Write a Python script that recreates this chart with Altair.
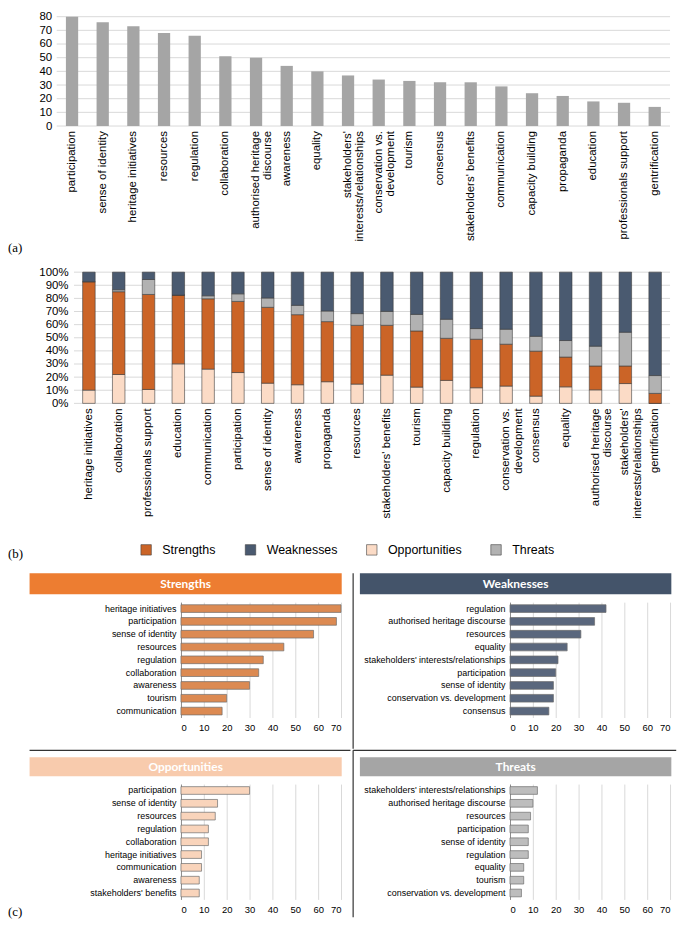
import altair as alt
import pandas as pd

SANS = "Liberation Sans"
SERIF = "Liberation Serif"

# ---------------- (a) overall frequency ----------------
a_cats = ["participation", "sense of identity", "heritage initiatives", "resources", "regulation",
          "collaboration", "authorised heritage discourse", "awareness", "equality",
          "stakeholders' interests/relationships", "conservation vs. development", "tourism",
          "consensus", "stakeholders' benefits", "communication", "capacity building",
          "propaganda", "education", "professionals support", "gentrification"]
a_vals = [80, 76, 73, 68, 66, 51, 50, 44, 40, 37, 34, 33, 32, 32, 29, 24, 22, 18, 17, 14]
a_ticks = [0, 10, 20, 30, 40, 50, 60, 70, 80]

# ---------------- (b) SWOT shares (percent) ----------------
b_cats = ["heritage initiatives", "collaboration", "professionals support", "education",
          "communication", "participation", "sense of identity", "awareness", "propaganda",
          "resources", "stakeholders' benefits", "tourism", "capacity building", "regulation",
          "conservation vs. development", "consensus", "equality",
          "authorised heritage discourse", "stakeholders' interests/relationships", "gentrification"]
b_opportunities = [10.1, 22.0, 10.6, 30.1, 26.1, 23.5, 15.4, 14.2, 16.5, 14.7,
                   21.5, 12.4, 17.5, 11.9, 13.2, 5.5, 12.6, 10.3, 15.1, 0.0]
b_strengths = [82.6, 63.1, 72.4, 52.4, 53.6, 54.2, 57.8, 53.4, 45.8, 44.8,
               38.0, 42.8, 32.1, 37.0, 31.9, 34.3, 22.7, 18.2, 13.4, 7.6]
b_threats = [0.0, 1.5, 11.4, 0.0, 2.3, 5.8, 7.1, 7.1, 8.1, 8.9,
             10.6, 12.6, 14.5, 8.1, 11.4, 11.3, 12.6, 15.1, 25.7, 13.6]
b_weaknesses = [7.3, 13.4, 5.6, 17.5, 18.0, 16.5, 19.7, 25.3, 29.6, 31.6,
                29.9, 32.2, 35.9, 43.0, 43.5, 48.9, 52.1, 56.4, 45.8, 78.8]
b_ticks = [0, 0.1, 0.2, 0.3, 0.4, 0.5, 0.6, 0.7, 0.8, 0.9, 1.0]

swot = ["Strengths", "Weaknesses", "Opportunities", "Threats"]
swot_stack_order = {"Opportunities": 0, "Strengths": 1, "Threats": 2, "Weaknesses": 3}
swot_colors = ["#CB6427", "#4A5A70", "#FBDBC6", "#B2B2B2"]

# ---------------- (c) top codes per SWOT category ----------------
s_cats = ["heritage initiatives", "participation", "sense of identity", "resources", "regulation",
          "collaboration", "awareness", "tourism", "communication"]
s_vals = [70, 68, 58, 45, 36, 34, 30, 20, 18]
w_cats = ["regulation", "authorised heritage discourse", "resources", "equality",
          "stakeholders' interests/relationships", "participation", "sense of identity",
          "conservation vs. development", "consensus"]
w_vals = [42, 37, 31, 25, 21, 20, 19, 19, 17]
o_cats = ["participation", "sense of identity", "resources", "regulation", "collaboration",
          "heritage initiatives", "communication", "awareness", "stakeholders' benefits"]
o_vals = [30, 16, 15, 12, 12, 9, 9, 8, 8]
t_cats = ["stakeholders' interests/relationships", "authorised heritage discourse", "resources",
          "participation", "sense of identity", "regulation", "equality", "tourism",
          "conservation vs. development"]
t_vals = [12, 10, 9, 8, 8, 8, 6, 6, 5]
c_ticks = [0, 10, 20, 30, 40, 50, 60, 70]

WRAP_CALC = ("datum.cat == 'authorised heritage discourse' ? 'authorised heritage|discourse' : "
             "datum.cat == \"stakeholders' interests/relationships\" ? \"stakeholders'|interests/relationships\" : "
             "datum.cat == 'conservation vs. development' ? 'conservation vs.|development' : datum.cat")

LABEL_X = -174


def cat_labels(df, xenc, y):
    return alt.Chart(df).transform_calculate(lab=WRAP_CALC).mark_text(
        angle=270, align="right", baseline="middle", lineBreak="|", lineHeight=12.5,
        fontSize=11.5, font=SANS, color="#000").encode(x=xenc, y=alt.value(y), text="lab:N")


# ---------------- chart (a) ----------------
A_L, A_R, A_H = -125, 492, 110
dfA = pd.DataFrame({"cat": a_cats, "n": a_vals})
xA = alt.X("cat:N", sort=a_cats, axis=None,
           scale=alt.Scale(range=[A_L, A_R], paddingInner=0.6, paddingOuter=0.3))
yA = alt.Y("n:Q", scale=alt.Scale(domain=[0, 80]),
           axis=alt.Axis(title=None, values=a_ticks, grid=False, domain=False, ticks=False,
                         offset=-A_L, labelPadding=5, labelFontSize=11.5, labelFont=SANS,
                         labelColor="#000"))
gridA = alt.Chart(pd.DataFrame({"n": a_ticks})).mark_rule(color="#D9D9D9", strokeWidth=1).encode(
    y=yA, x=alt.value(A_L), x2=alt.value(A_R))
barsA = alt.Chart(dfA).mark_bar(color="#A5A5A5").encode(x=xA, y=yA)
textA = cat_labels(dfA, xA, A_H + 5)
labA = alt.Chart(pd.DataFrame({"t": ["(a)"]})).mark_text(
    font=SERIF, fontSize=13, align="left", baseline="middle", color="#000").encode(
    x=alt.value(LABEL_X), y=alt.value(233), text="t:N")
A = alt.layer(gridA, barsA, textA, labA).properties(width=A_R, height=A_H)

# ---------------- chart (b) ----------------
B_L, B_R, B_H = -107.6, 492, 132
rows = []
for i, c in enumerate(b_cats):
    for t, arr in (("Opportunities", b_opportunities), ("Strengths", b_strengths),
                   ("Threats", b_threats), ("Weaknesses", b_weaknesses)):
        rows.append({"cat": c, "type": t, "val": arr[i], "ord": swot_stack_order[t]})
dfB = pd.DataFrame(rows)
xB = alt.X("cat:N", sort=b_cats, axis=None,
           scale=alt.Scale(range=[B_L, B_R], paddingInner=0.58, paddingOuter=0.29))
yB_axis = alt.Axis(title=None, values=b_ticks, format=".0%", grid=False, domain=False, ticks=False,
                   offset=-B_L, labelPadding=6, labelFontSize=11.5, labelFont=SANS, labelColor="#000")
gridB = alt.Chart(pd.DataFrame({"val": b_ticks})).mark_rule(color="#D9D9D9", strokeWidth=1).encode(
    y=alt.Y("val:Q", stack=None, scale=alt.Scale(domain=[0, 1]), axis=yB_axis),
    x=alt.value(B_L), x2=alt.value(B_R))
barsB = alt.Chart(dfB).mark_bar(stroke="#3d3d3d", strokeWidth=0.6).encode(
    x=xB,
    y=alt.Y("val:Q", stack="normalize", scale=alt.Scale(domain=[0, 1]), axis=yB_axis),
    color=alt.Color("type:N", scale=alt.Scale(domain=swot, range=swot_colors),
                    legend=alt.Legend(title=None, orient="none", legendX=-41.3, legendY=273,
                                      direction="horizontal", symbolType="square", symbolSize=110,
                                      symbolStrokeColor="#404040", symbolStrokeWidth=0.6,
                                      labelFont=SANS, labelFontSize=12.5, labelColor="#000",
                                      labelOffset=10, columnPadding=27)),
    order=alt.Order("ord:Q"))
textB = cat_labels(pd.DataFrame({"cat": b_cats}), xB, B_H + 5)
labB = alt.Chart(pd.DataFrame({"t": ["(b)"]})).mark_text(
    font=SERIF, fontSize=13, align="left", baseline="middle", color="#000").encode(
    x=alt.value(LABEL_X), y=alt.value(284), text="t:N")
B = alt.layer(gridB, barsB, textB, labB).properties(width=B_R, height=B_H)


# ---------------- chart (c) ----------------
P_H = 116


def panel(title, cats, vals, head_fill, bar_fill, hx, hy, rules, label=None):
    head_df = pd.DataFrame({"t": [title]})
    bars = alt.Chart(pd.DataFrame({"cat": cats, "v": vals})).mark_bar(
        color=bar_fill, stroke="#6e6e6e", strokeWidth=0.7).encode(
        x=alt.X("v:Q", scale=alt.Scale(domain=[0, 70]),
                axis=alt.Axis(title=None, values=c_ticks, grid=True, gridColor="#D9D9D9",
                              domain=False, ticks=False, labelFontSize=9.5, labelFont=SANS,
                              labelColor="#000", labelPadding=5)),
        y=alt.Y("cat:N", sort=cats, scale=alt.Scale(paddingInner=0.4, paddingOuter=0.2),
                axis=alt.Axis(title=None, labelFontSize=9, labelFont=SANS, labelColor="#000",
                              ticks=False, domainColor="#8c8c8c", labelPadding=5, labelLimit=300)))
    head = alt.Chart(head_df).mark_rect(color=head_fill).encode(
        x=alt.value(hx[0]), x2=alt.value(hx[1]), y=alt.value(hy[0]), y2=alt.value(hy[1]))
    htxt = alt.Chart(head_df).mark_text(
        font="Lato", fontWeight="bold", fontSize=12, color="white", align="center",
        baseline="middle").encode(
        x=alt.value((hx[0] + hx[1]) / 2), y=alt.value((hy[0] + hy[1]) / 2), text="t:N")
    layers = [bars, head, htxt]
    for (x1, y1, x2, y2) in rules:
        layers.append(alt.Chart(head_df).mark_rule(color="#333333", strokeWidth=1.2).encode(
            x=alt.value(x1), y=alt.value(y1), x2=alt.value(x2), y2=alt.value(y2)))
    if label:
        layers.append(alt.Chart(pd.DataFrame({"t": [label]})).mark_text(
            font=SERIF, fontSize=13, align="left", baseline="middle", color="#000").encode(
            x=alt.value(LABEL_X), y=alt.value(129), text="t:N"))
    return alt.layer(*layers).properties(width=161, height=P_H)


S = panel("Strengths", s_cats, s_vals, "#ED7D31", "#DC8A52",
          (-152.3, 161.7), (-29, -8), [])
W = panel("Weaknesses", w_cats, w_vals, "#44546A", "#5A677D",
          (-151, 162.3), (-29, -8), [(-157.8, -29, -157.8, 147.4)])
O = panel("Opportunities", o_cats, o_vals, "#F8CBAD", "#F9D4BB",
          (-152.3, 161.7), (-27, -8), [(-152.3, -34, 170.5, -34)], label="(c)")
T = panel("Threats", t_cats, t_vals, "#A5A5A5", "#BDBDBD",
          (-151, 162.3), (-27, -8),
          [(-157.8, -34, -157.8, 134), (-157.8, -34, 167.2, -34)])

C = alt.concat(S, W, O, T, columns=2, spacing={"row": 0, "column": 0})

chart = alt.vconcat(A, B, C, spacing=11).resolve_scale(color="independent").resolve_legend(
    color="independent").properties(padding=0).configure_view(strokeWidth=0)

chart.save("out.html", embed_options={"renderer": "svg", "actions": False})
